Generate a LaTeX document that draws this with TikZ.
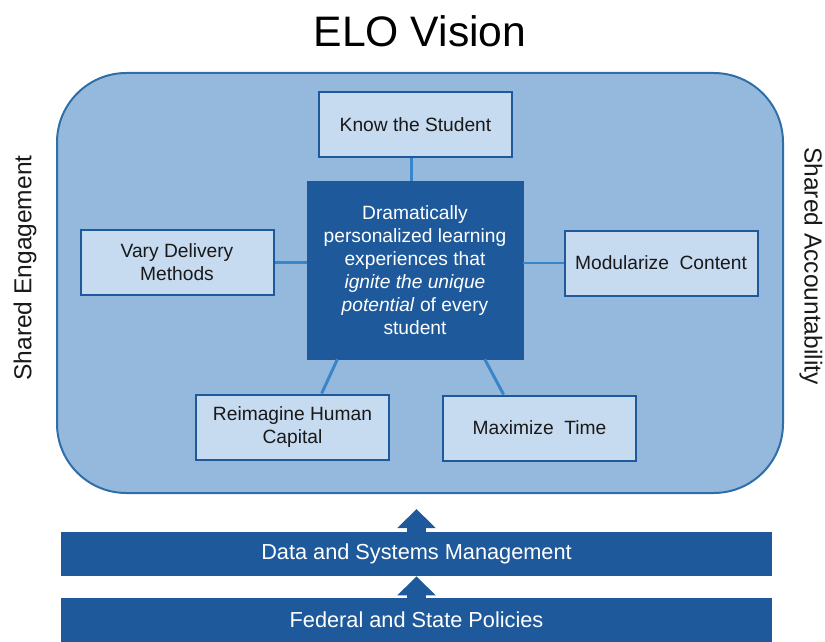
\documentclass[tikz,border=0pt]{standalone}
\usepackage{fontspec}
\setmainfont{Liberation Sans}
\usetikzlibrary{arrows.meta}
\definecolor{eloSky}{RGB}{148,185,220}
\definecolor{eloEdge}{RGB}{48,110,168}
\definecolor{eloPale}{RGB}{198,218,240}
\definecolor{eloNavy}{RGB}{30,90,155}
\definecolor{eloLink}{RGB}{58,132,200}
\definecolor{eloInk}{RGB}{25,25,25}

\begin{document}
\begin{tikzpicture}[
    x=0.75pt, y=-0.75pt,
    font=\fontsize{14.4}{17.3}\selectfont,
    pillar/.style={
        rectangle,
        draw=eloNavy,
        line width=1.5pt,
        fill=eloPale,
        text=eloInk,
        align=center,
        inner sep=0pt,
        minimum width=144.75pt,
        minimum height=48.75pt
    },
    core/.style={
        rectangle,
        draw=eloNavy,
        fill=eloNavy,
        text=white,
        align=center,
        inner sep=0pt,
        minimum width=162pt,
        minimum height=133.5pt
    },
    base/.style={
        rectangle,
        fill=eloNavy,
        text=white,
        inner sep=0pt,
        font=\fontsize{16.3}{19.5}\selectfont,
        minimum width=533.25pt,
        minimum height=33pt
    },
    side/.style={
        text=eloInk,
        inner sep=0pt,
        font=\fontsize{18.4}{22}\selectfont
    },
    link/.style={
        eloLink,
        line width=2.2pt
    },
    lift/.style={
        -{Triangle[width=27.75pt,length=14.25pt]},
        eloNavy,
        line width=14.25pt
    }
]
\useasboundingbox (0,0) rectangle (825,642);

% TITULO
\node[text=black, font=\fontsize{32}{38}\selectfont] (title) at (420,31) {ELO Vision};

% MARCO
\node[
    rectangle,
    rounded corners=52pt,
    draw=eloEdge,
    line width=1.5pt,
    fill=eloSky,
    minimum width=544.5pt,
    minimum height=315pt
] (frame) at (420,283) {};

% CAJAS
\node[core] (core) at (415,270)
{
Dramatically\\
personalized learning\\
experiences that\\
\textit{ignite the unique}\\
\textit{potential} of every\\
student
};

\node[pillar] (know) at (415.5,124.5) {Know the Student};
\node[pillar] (vary) at (177,262.5) {Vary Delivery\\Methods};
\node[pillar] (modular) at (661,263) {Modularize\ \ Content};
\node[pillar] (reimagine) at (292.5,427) {Reimagine Human\\Capital};
\node[pillar] (maxtime) at (539.5,428) {Maximize\ \ Time};

% CONEXIONES
\draw[link] (core.north -| know.south) ++(-4,0) coordinate (k0) -- (k0 |- know.south);
\draw[link] (vary.east) -- (vary.east -| core.west);
\draw[link] (modular.west) -- (modular.west -| core.east);
\draw[link] (core.229) -- (reimagine.49);
\draw[link] (core.308) -- (maxtime.137);

% LATERALES
\node[side, rotate=90] (engage) at (25,268) {Shared Engagement};
\node[side, rotate=-90] (account) at (811,266) {Shared Accountability};

% BASES
\node[base] (data) at (416.5,554) {Data and Systems Management};
\node[base] (federal) at (416.5,620) {Federal and State Policies};

\draw[lift, shorten >=11.25pt] (data.north) -- (data.north |- frame.south);
\draw[lift] (federal.north) -- (data.south);

\end{tikzpicture}
\end{document}
